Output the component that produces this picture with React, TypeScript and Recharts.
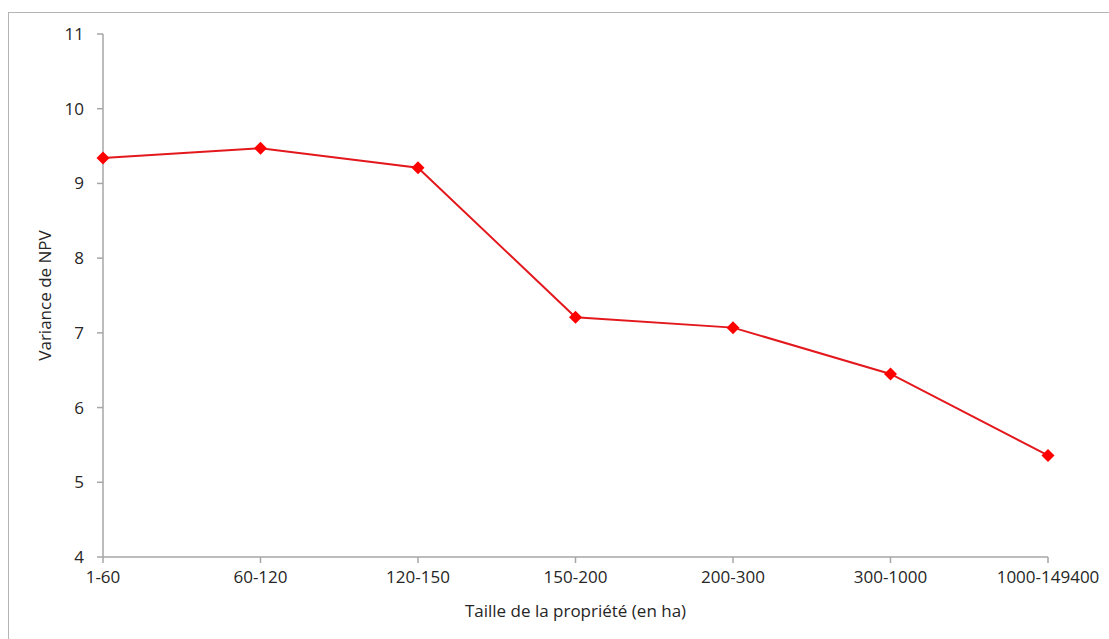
import React from "react";
import { LineChart, Line, XAxis, YAxis } from "recharts";

const categories = ["1-60", "60-120", "120-150", "150-200", "200-300", "300-1000", "1000-149400"];
const varianceNPV = [9.34, 9.47, 9.21, 7.21, 7.07, 6.45, 5.36];
const yTicks = [4, 5, 6, 7, 8, 9, 10, 11];

const data = categories.map((c, i) => ({ name: c, value: varianceNPV[i] }));

const FONT = "'Open Sans', sans-serif";
const TEXT = "#262626";
const AXIS = "#a6a6a6";

const Diamond = (props: any) => {
  const { cx, cy, index } = props;
  if (cx == null || cy == null) return null;
  const r = 6.5;
  return (
    <path
      key={`d-${index}`}
      d={`M${cx},${cy - r} L${cx + r},${cy} L${cx},${cy + r} L${cx - r},${cy} Z`}
      fill="#ff0000"
      stroke="none"
    />
  );
};

export default function App() {
  return (
    <div style={{ position: "absolute", left: 0, top: 0, width: 1109, height: 639, background: "#fff", overflow: "hidden" }}>
      <div
        style={{
          position: "absolute",
          left: 8,
          top: 12,
          width: 1200,
          height: 700,
          borderTop: "1.5px solid #b4b4b4",
          borderLeft: "1.5px solid #b4b4b4",
        }}
      />
      <div style={{ position: "absolute", left: 0, top: 0 }}>
        <LineChart width={1109} height={639} data={data} margin={{ top: 34, right: 61, bottom: 12, left: 43 }}>
          <XAxis
            dataKey="name"
            height={70}
            stroke={AXIS}
            strokeWidth={1.5}
            tickSize={6}
            tickMargin={8}
            tick={{ fill: TEXT, fontSize: 17, fontFamily: FONT }}
            interval={0}
            label={{ value: "Taille de la propriété (en ha)", position: "insideBottom", offset: 10, fill: TEXT, fontSize: 17, fontFamily: FONT }}
          />
          <YAxis
            domain={[4, 11]}
            ticks={yTicks}
            width={60}
            stroke={AXIS}
            strokeWidth={1.5}
            tickSize={6}
            tickMargin={13}
            tick={{ fill: TEXT, fontSize: 17, fontFamily: FONT }}
            label={{ value: "Variance de NPV", angle: -90, position: "insideLeft", offset: 2, fill: TEXT, fontSize: 17, fontFamily: FONT, style: { textAnchor: "middle" } }}
          />
          <Line
            dataKey="value"
            stroke="#e3181d"
            strokeWidth={2}
            dot={<Diamond />}
            activeDot={false}
            isAnimationActive={false}
          />
        </LineChart>
      </div>
    </div>
  );
}
